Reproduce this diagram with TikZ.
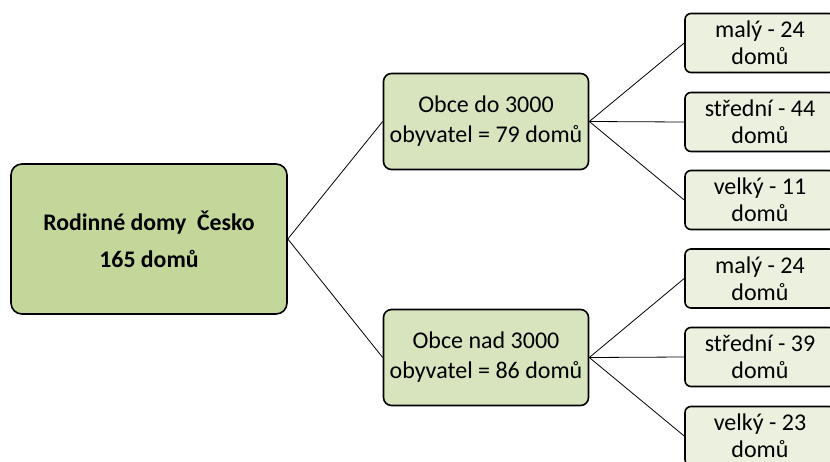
\documentclass[tikz,border=0pt]{standalone}
\usepackage{fontspec}
\setmainfont{Carlito}
\usetikzlibrary{positioning}
\definecolor{rootgreen}{HTML}{C4D79B}
\definecolor{midgreen}{HTML}{D7E4BD}
\definecolor{leafgreen}{HTML}{EBF1DE}
\tikzset{
    rootnode/.style = {rectangle, rounded corners=11pt, line width=1.6pt, draw=black, fill=rootgreen, align=center, minimum width=276pt, minimum height=150pt, font=\fontsize{23.8}{37}\selectfont\bfseries},
    midnode/.style = {rectangle, rounded corners=8pt, line width=1.6pt, draw=black, fill=midgreen, align=center, minimum width=205pt, minimum height=96pt, inner sep=1pt, font=\fontsize{24}{30}\selectfont},
    leafnode/.style = {rectangle, rounded corners=6pt, line width=1.6pt, draw=black, fill=leafgreen, align=center, minimum width=150pt, minimum height=59pt, inner sep=1pt, font=\fontsize{24}{27}\selectfont},
    edgen/.style = {-, line width=0.8pt, black}
}
\begin{document}
\begin{tikzpicture}[x=1pt,y=-1pt]
\path[use as bounding box] (0,0) rectangle (830,461);
\clip (0,0) rectangle (830,461);
%
\node[rootnode] at (149,239) (root) {Rodinné domy\ \ Česko\\165 domů};
%
\node[midnode] at (486,121.5) (small) {Obce do 3000\\obyvatel = 79 domů};
\node[midnode] at (486,357.5) (big) {Obce nad 3000\\obyvatel = 86 domů};
%
\node[leafnode] at (760,43) (s1) {malý - 24\\domů};
\node[leafnode] at (760,122) (s2) {střední - 44\\domů};
\node[leafnode] at (760,200) (s3) {velký - 11\\domů};
\node[leafnode] at (760,278.5) (b1) {malý - 24\\domů};
\node[leafnode] at (760,357) (b2) {střední - 39\\domů};
\node[leafnode] at (760,436) (b3) {velký - 23\\domů};
%
\draw[edgen] (root.east) -- (small.west);
\draw[edgen] (root.east) -- (big.west);
\draw[edgen] (small.east) -- (s1.west);
\draw[edgen] (small.east) -- (s2.west);
\draw[edgen] (small.east) -- (s3.west);
\draw[edgen] (big.east) -- (b1.west);
\draw[edgen] (big.east) -- (b2.west);
\draw[edgen] (big.east) -- (b3.west);

\end{tikzpicture}
\end{document}
